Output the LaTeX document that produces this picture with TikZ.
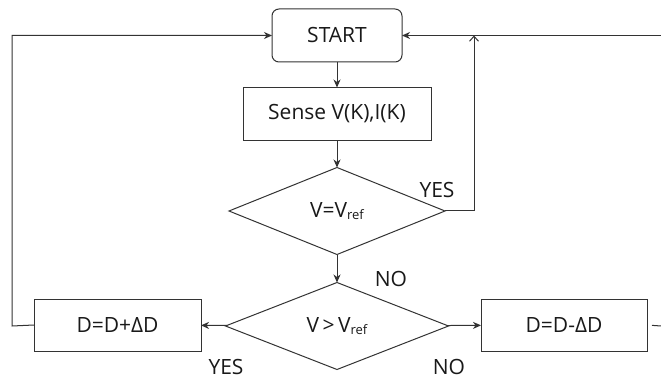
\documentclass[tikz,border=0pt]{standalone}
\usepackage{fontspec}
\setmainfont{Open Sans}
\usetikzlibrary{shapes.geometric,arrows.meta}

% subscript "ref" set small and a little below the baseline
\newcommand{\refsub}{\raisebox{-1.5pt}{\fontsize{13}{13}\selectfont ref}}

\begin{document}
\begin{tikzpicture}[x=1pt,y=-1pt,
  every node/.style={font=\fontsize{21}{24}\selectfont, text=black!90},
  flow/.style={draw=black!80, line width=1pt},
  stepbox/.style={flow, rectangle, minimum width=#1, minimum height=53,
    inner sep=0pt, outer sep=0pt},
  startbox/.style={stepbox=#1, rounded corners=7pt},
  decision/.style={flow, diamond, shape aspect=2.5, minimum width=#1,
    minimum height=87, inner sep=0pt, outer sep=0pt},
  link/.style={flow, -{Stealth[length=8pt,width=7pt,inset=2.5pt]}},
  uplink/.style={flow, -{Straight Barb[length=5pt,width=9pt]}},
  tag/.style={inner sep=0pt}
]
\useasboundingbox[fill=white] (0,0) rectangle (661,379);

% process steps
\node[startbox=130] (start) at (337,35.5) {START};
\node[stepbox=188]  (sense) at (337,114) {Sense V(K),I(K)};
\node[decision=216] (eq)    at (337,211) {V=V\refsub};
\node[decision=223] (gt)    at (337,326) {V\,>\,V\refsub};
\node[stepbox=167, minimum height=52] (inc) at (117.5,325) {D=D+ΔD};
\node[stepbox=166, minimum height=52] (dec) at (564,325) {D=D-ΔD};

% loop-back corners and free ends
\coordinate (lcorner) at (12,326);
\coordinate (rtop)    at (661,35.5);
\coordinate (ycorner) at (474,211);
\coordinate (ytop)    at (474,35.5);
\coordinate (rstub)   at (661,326);

% main flow
\draw[link] (start) -- (sense);
\draw[link] (sense) -- (eq);
\draw[link] (eq) -- (gt);
\draw[link] (gt) -- (inc);
\draw[link] (gt) -- (dec);

% returns to START
\draw[link] (inc.west) -- (lcorner) |- (start.west);
\draw[link] (rtop) -- (start.east);
\draw[uplink] (eq.east) -- (ycorner) -- (ytop);
\draw[flow, shorten <=5pt] (dec.east) -- (rstub);

% branch labels
\node[tag] (yes1) at (437,190) {YES};
\node[tag] (no1)  at (391,279) {NO};
\node[tag] (yes2) at (226,367) {YES};
\node[tag] (no2)  at (449,367) {NO};
\end{tikzpicture}
\end{document}
